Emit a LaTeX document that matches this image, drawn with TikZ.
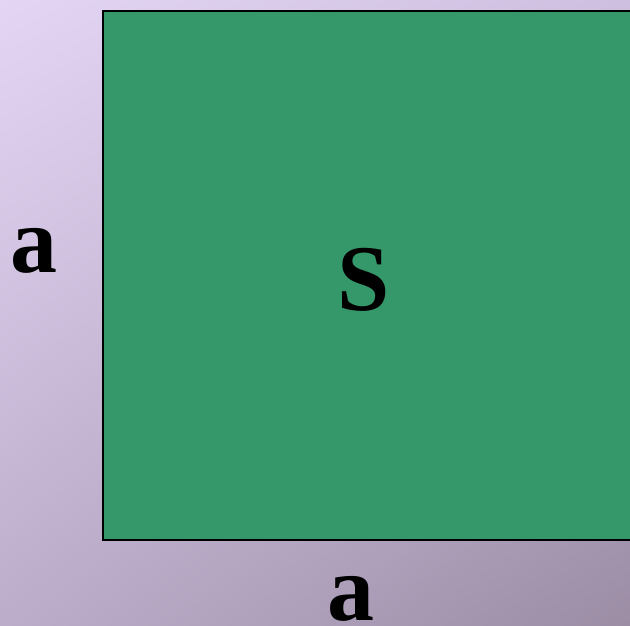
\documentclass[tikz,border=0pt]{standalone}
\usepackage{fontspec}
\setmainfont{Liberation Serif}
\usepackage{tikz}
\usetikzlibrary{shadings}

\definecolor{squaregreen}{HTML}{35986A}
\definecolor{bgtl}{HTML}{E3D5F3}
\definecolor{bgtr}{HTML}{CEBFE0}
\definecolor{bgbl}{HTML}{BCADCB}
\definecolor{bgbr}{HTML}{9C8DA5}

\begin{document}
\begin{tikzpicture}[x=1pt,y=1pt,
                    big label/.style={anchor=base,inner sep=0pt,
                      font=\fontsize{94}{94}\selectfont\bfseries}]
  \useasboundingbox (0,0) rectangle (630,625);
  \clip (0,0) rectangle (630,625);
  \shade[upper left=bgtl,upper right=bgtr,lower left=bgbl,lower right=bgbr]
    (0,0) rectangle (630,625);
  \draw[fill=squaregreen,line width=2pt] (103,85) rectangle (650,614);

  \node[big label] (side) at (34,352) {a};
  \node[big label] (area) at (364,314) {S};
  \node[big label] (base) at (351,5) {a};
\end{tikzpicture}
\end{document}
